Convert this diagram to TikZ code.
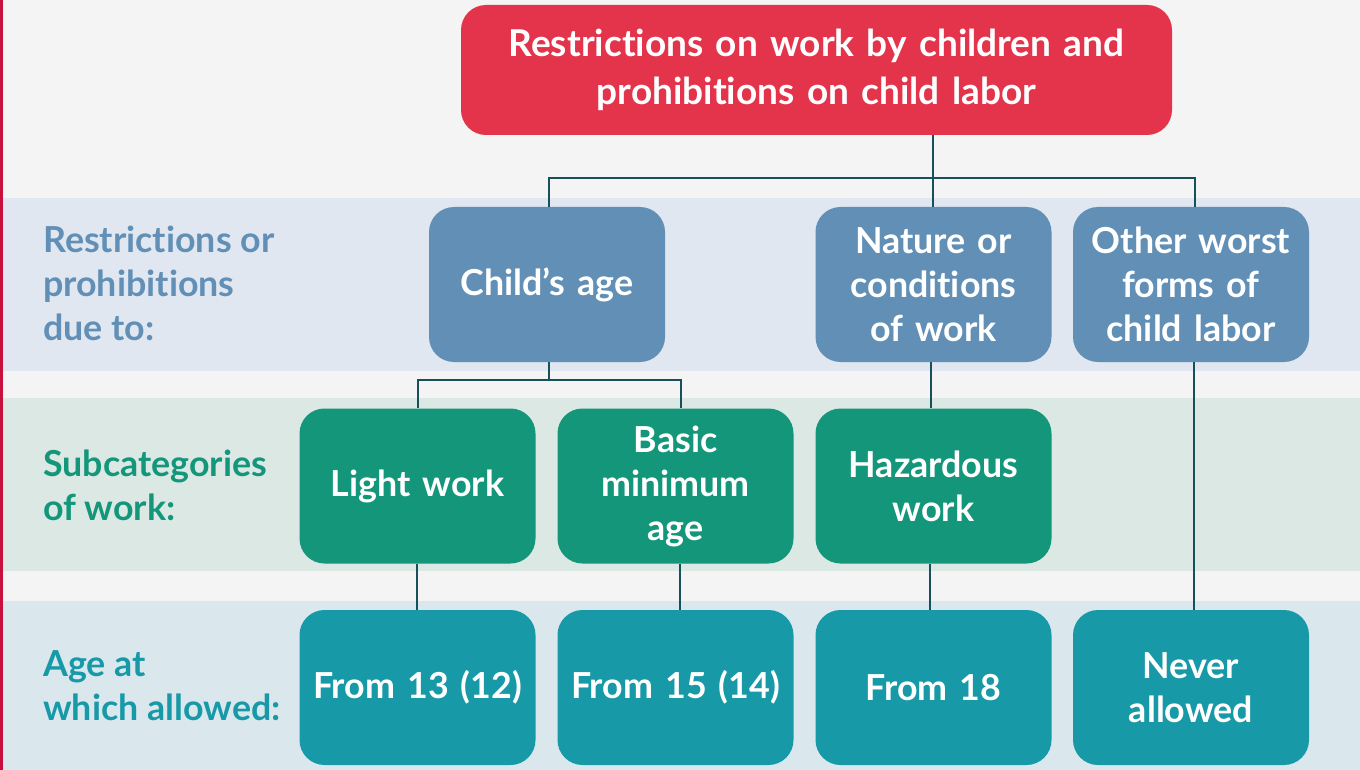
\documentclass[tikz,border=0pt]{standalone}
\usepackage{fontspec}
\setmainfont{Lato}[Ligatures=NoCommon]
\definecolor{bgc}{HTML}{F4F4F4}
\definecolor{barc}{HTML}{C8103E}
\definecolor{topc}{HTML}{E3344B}
\definecolor{bandA}{HTML}{E0E7F1}
\definecolor{bandB}{HTML}{DCE8E4}
\definecolor{bandC}{HTML}{DAE8EE}
\definecolor{bluec}{HTML}{628FB5}
\definecolor{greenc}{HTML}{13967A}
\definecolor{tealc}{HTML}{1899A7}
\definecolor{linec}{HTML}{15505B}
\begin{document}
\begin{tikzpicture}[x=1pt,y=-1pt,
  box/.style={rounded corners=25pt, minimum width=236pt, minimum height=155pt, inner sep=0pt,
    text=white, align=center, font=\bfseries\fontsize{35.8}{44}\selectfont, text width=232pt},
  bluebox/.style={box, fill=bluec},
  greenbox/.style={box, fill=greenc},
  tealbox/.style={box, fill=tealc},
  lbl/.style={anchor=west, align=left, inner sep=0pt, font=\bfseries\fontsize{35.8}{44}\selectfont},
  conn/.style={draw=linec, line width=2.5pt}]
\useasboundingbox (0,0) rectangle (1360,770);
\fill[bgc] (0,0) rectangle (1360,770);
\fill[bandA] (2,198) rectangle (1360,371);
\fill[bandB] (2,398) rectangle (1360,571);
\fill[bandC] (2,601) rectangle (1360,770);
\fill[barc] (0,0) rectangle (2.5,770);

\node[lbl, text=bluec] (la) at (43,283) {Restrictions or\\prohibitions\\due to:};
\node[lbl, text=greenc] (lb) at (43,485) {Subcategories\\of work:};
\node[lbl, text=tealc] (lc) at (43,686) {Age at\\which allowed:};

\node[box, fill=topc, minimum width=711pt, minimum height=130pt, text width=700pt, font=\bfseries\fontsize{37}{48}\selectfont] (top) at (816.5,70) {Restrictions on work by children and\\prohibitions on child labor};

\node[bluebox] (child) at (547,284.5) {Child’s age};
\node[bluebox] (nature) at (933.5,284.5) {Nature or\\conditions\\of work};
\node[bluebox] (other) at (1191,284.5) {Other worst\\forms of\\child labor};

\node[greenbox] (light) at (417.5,486) {Light work};
\node[greenbox] (basic) at (675.5,486) {Basic\\minimum\\age};
\node[greenbox] (hazard) at (933.5,486) {Hazardous\\work};

\node[tealbox] (f13) at (417.5,687.5) {From 13 (12)};
\node[tealbox] (f15) at (675.5,687.5) {From 15 (14)};
\node[tealbox] (f18) at (933.5,687.5) {From 18};
\node[tealbox] (never) at (1191,687.5) {Never\\allowed};

\coordinate (j1) at (933,178);
\coordinate (j2) at (549,380);
\coordinate (xc) at (549,0);
\coordinate (xo) at (1195,0);
\coordinate (xl) at (418,0);
\coordinate (xb) at (681,0);
\coordinate (xh) at (931,0);
\coordinate (xl2) at (417,0);
\coordinate (xb2) at (680,0);
\coordinate (xh2) at (930,0);
\coordinate (xo2) at (1194,0);
\draw[conn] (top.south -| j1) -- (nature.north -| j1);
\draw[conn] (child.north -| xc) |- (j1) -| (other.north -| xo);
\draw[conn] (child.south -| j2) -- (j2);
\draw[conn] (light.north -| xl) |- (j2) -| (basic.north -| xb);
\draw[conn] (nature.south -| xh) -- (hazard.north -| xh);
\draw[conn] (other.south -| xo2) -- (never.north -| xo2);
\draw[conn] (light.south -| xl2) -- (f13.north -| xl2);
\draw[conn] (basic.south -| xb2) -- (f15.north -| xb2);
\draw[conn] (hazard.south -| xh2) -- (f18.north -| xh2);
\end{tikzpicture}
\end{document}
